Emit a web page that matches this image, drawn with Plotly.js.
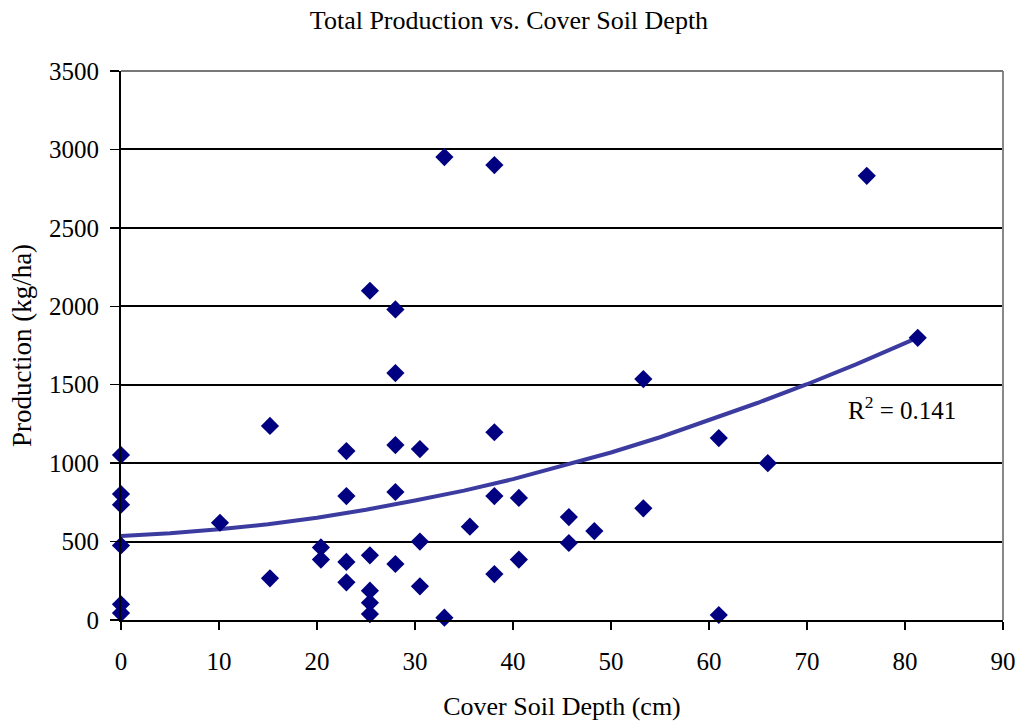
<!DOCTYPE html>
<html>
<head>
<meta charset="utf-8">
<script src="https://cdn.plot.ly/plotly-3.0.1.min.js"></script>
<style>html,body{margin:0;padding:0;background:#fff;}#chart{width:1018px;height:721px;}</style>
</head>
<body>
<div id="chart"></div>
<script>
// Observed data: cover soil depth (cm) vs. total production (kg/ha)
const depthCm = [0,0,0,0,0,0,
  10.1,
  15.2,15.2,
  20.4,20.4,
  23,23,23,23,
  25.4,25.4,25.4,25.4,25.4,
  28,28,28,28,28,
  30.5,30.5,30.5,
  33,33,
  35.6,
  38.1,38.1,38.1,38.1,
  40.6,40.6,
  45.7,45.7,
  48.3,
  53.3,53.3,
  61,61,
  66,
  76.1,
  81.3];
const productionKgHa = [1052,803,735,475,100,44,
  620,
  1237,266,
  463,385,
  1077,790,370,240,
  2099,412,187,110,38,
  1980,1574,1115,816,357,
  1090,500,215,
  2951,15,
  595,
  2900,1197,790,293,
  778,385,
  656,491,
  567,
  1536,712,
  1160,32,
  1000,
  2832,
  1799];

// Trendline
const trendX = [0,5,10,15,20,25,30,35,40,45,50,55,60,65,70,75,81.3];
const trendY = [535,553,578,610,652,703,762,825,898,980,1068,1165,1272,1385,1503,1630,1800];

const xTicks = [0,10,20,30,40,50,60,70,80,90];
const yTicks = [0,500,1000,1500,2000,2500,3000,3500];

const chartTitle = "Total Production vs. Cover Soil Depth";
const xTitle = "Cover Soil Depth (cm)";
const yTitle = "Production (kg/ha)";
const r2Label = "R<sup>2</sup> = 0.141";

const font = "'Liberation Serif', 'Times New Roman', serif";

const traces = [
  {
    x: trendX, y: trendY, type: "scatter", mode: "lines",
    line: {color: "#3c3ca0", width: 4}, hoverinfo: "skip", cliponaxis: false
  },
  {
    x: depthCm, y: productionKgHa, type: "scatter", mode: "markers",
    marker: {symbol: "diamond", size: 14, color: "#000080"}, cliponaxis: false
  }
];

const layout = {
  width: 1018, height: 721,
  margin: {l: 121, r: 15, t: 71, b: 101},
  paper_bgcolor: "#fff", plot_bgcolor: "#fff",
  showlegend: false,
  font: {family: font, size: 25, color: "#000"},
  title: {text: chartTitle, font: {family: font, size: 26, color: "#000"}, x: 0.5, xanchor: "center", y: 0.972, yanchor: "middle"},
  xaxis: {
    range: [0, 90], tickvals: xTicks, ticktext: xTicks.map(String),
    showgrid: false, zeroline: false,
    showline: true, linecolor: "#000", linewidth: 2,
    ticks: "outside", ticklen: 8, tickwidth: 1.5, tickcolor: "#000",
    ticklabelstandoff: 10,
    tickfont: {family: font, size: 25},
    title: {text: xTitle, font: {family: font, size: 26}, standoff: 24},
    mirror: false
  },
  yaxis: {
    range: [0, 3500], tickvals: yTicks, ticktext: yTicks.map(String),
    showgrid: true, gridcolor: "#000", gridwidth: 2,
    zeroline: false,
    showline: true, linecolor: "#000", linewidth: 2,
    ticks: "outside", ticklen: 9, tickwidth: 1.5, tickcolor: "#000",
    ticklabelstandoff: 6,
    tickfont: {family: font, size: 25},
    title: {text: yTitle, font: {family: font, size: 27}, standoff: 10}
  },
  shapes: [
    {type: "line", xref: "paper", yref: "paper", x0: 1, x1: 1, y0: 0, y1: 1, line: {color: "#888", width: 2}},
    {type: "line", xref: "paper", yref: "paper", x0: 0, x1: 1, y0: 1, y1: 1, line: {color: "#777", width: 2}}
  ],
  annotations: [
    {x: 74.0, y: 1350, xref: "x", yref: "y", text: r2Label, showarrow: false,
     xanchor: "left", yanchor: "middle", font: {family: font, size: 25, color: "#000"}}
  ]
};

Plotly.newPlot("chart", traces, layout, {displayModeBar: false, staticPlot: true});
</script>
</body>
</html>
